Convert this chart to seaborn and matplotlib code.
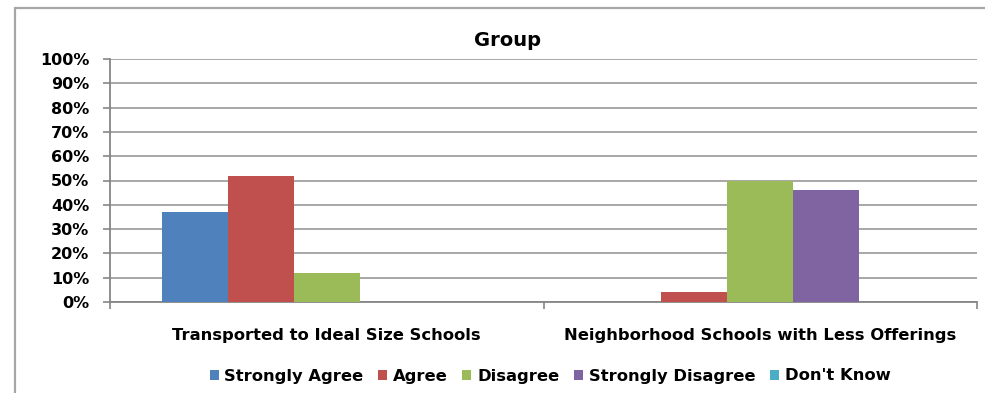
import matplotlib
matplotlib.use("Agg")
import matplotlib.pyplot as plt
import seaborn as sns
import pandas as pd
from matplotlib.lines import Line2D
from matplotlib.ticker import FixedLocator, PercentFormatter

categories = ["Transported to Ideal Size Schools", "Neighborhood Schools with Less Offerings"]
responses = ["Strongly Agree", "Agree", "Disagree", "Strongly Disagree", "Don't Know"]
strongly_agree = [37, 0]
agree = [52, 4]
disagree = [12, 50]
strongly_disagree = [0, 46]
dont_know = [0, 0]
colors = ["#4F81BD", "#C0504D", "#9BBB59", "#8064A2", "#4BACC6"]
y_ticks = [0, 10, 20, 30, 40, 50, 60, 70, 80, 90, 100]

series = [strongly_agree, agree, disagree, strongly_disagree, dont_know]
rows = []
for resp, vals in zip(responses, series):
    for cat, v in zip(categories, vals):
        rows.append({"category": cat, "response": resp, "value": v})
df = pd.DataFrame(rows)

sns.set_theme(style="white")
plt.rcParams["font.family"] = ["DejaVu Sans"]
plt.rcParams["font.weight"] = "bold"
plt.rcParams["text.color"] = "black"
plt.rcParams["xtick.labelcolor"] = "black"
plt.rcParams["ytick.labelcolor"] = "black"

W, H = 985, 393
fig = plt.figure(figsize=(W / 100, H / 100), dpi=100)
fig.patch.set_facecolor("white")

# chart frame: top and left edges
frame_kw = dict(transform=fig.transFigure, color="#A6A6A6", linewidth=1.6, zorder=0)
fig.add_artist(Line2D([15 / W, 1.0], [1 - 8 / H, 1 - 8 / H], **frame_kw))
fig.add_artist(Line2D([15 / W, 15 / W], [0.0, 1 - 8 / H], **frame_kw))

ax = fig.add_axes([110 / W, 1 - 302 / H, (977 - 110) / W, (302 - 59) / H])
sns.barplot(data=df, x="category", y="value", hue="response", hue_order=responses,
            order=categories, palette=colors, width=0.761, gap=0, linewidth=0,
            saturation=1, ax=ax, legend=True, zorder=3)

ax.set_xlim(-0.5, 1.5)
ax.set_ylim(0, 100)
ax.yaxis.set_major_locator(FixedLocator(y_ticks))
ax.yaxis.set_major_formatter(PercentFormatter(decimals=0))
ax.set_axisbelow(True)
ax.yaxis.grid(True, color="#A0A0A0", linewidth=1.3)
ax.xaxis.grid(False)

for s in ["top", "right"]:
    ax.spines[s].set_visible(False)
for s in ["left", "bottom"]:
    ax.spines[s].set_color("#868686")
    ax.spines[s].set_linewidth(1.3)

ax.tick_params(axis="y", left=True, length=5, width=1.2, color="#868686", pad=10,
               labelsize=11.5, labelcolor="black")
for lab in ax.get_yticklabels():
    lab.set_fontweight("bold")
ax.set_xticks([0, 1])
ax.set_xticklabels(categories, fontsize=11.8, fontweight="bold", color="black")
ax.tick_params(axis="x", bottom=False, pad=13)
ax.set_xticks([-0.5, 0.5, 1.5], minor=True)
ax.tick_params(axis="x", which="minor", bottom=True, length=5, width=1.2, color="#868686")
ax.set_xlabel("")
ax.set_ylabel("")

fig.text(508 / W, 1 - 40 / H, "Group", ha="center", va="center", fontsize=14,
         fontweight="bold", color="black")

handles, labels = ax.get_legend_handles_labels()
ax.get_legend().remove()
leg = fig.legend(handles, labels, loc="center", bbox_to_anchor=(550 / W, 1 - 376 / H),
                 ncol=5, frameon=False, handlelength=0.55, handleheight=0.55,
                 handletextpad=0.35, columnspacing=0.9,
                 prop={"weight": "bold", "size": 11.8})
for t in leg.get_texts():
    t.set_color("black")

fig.savefig("out.png", dpi=100, facecolor="white")
